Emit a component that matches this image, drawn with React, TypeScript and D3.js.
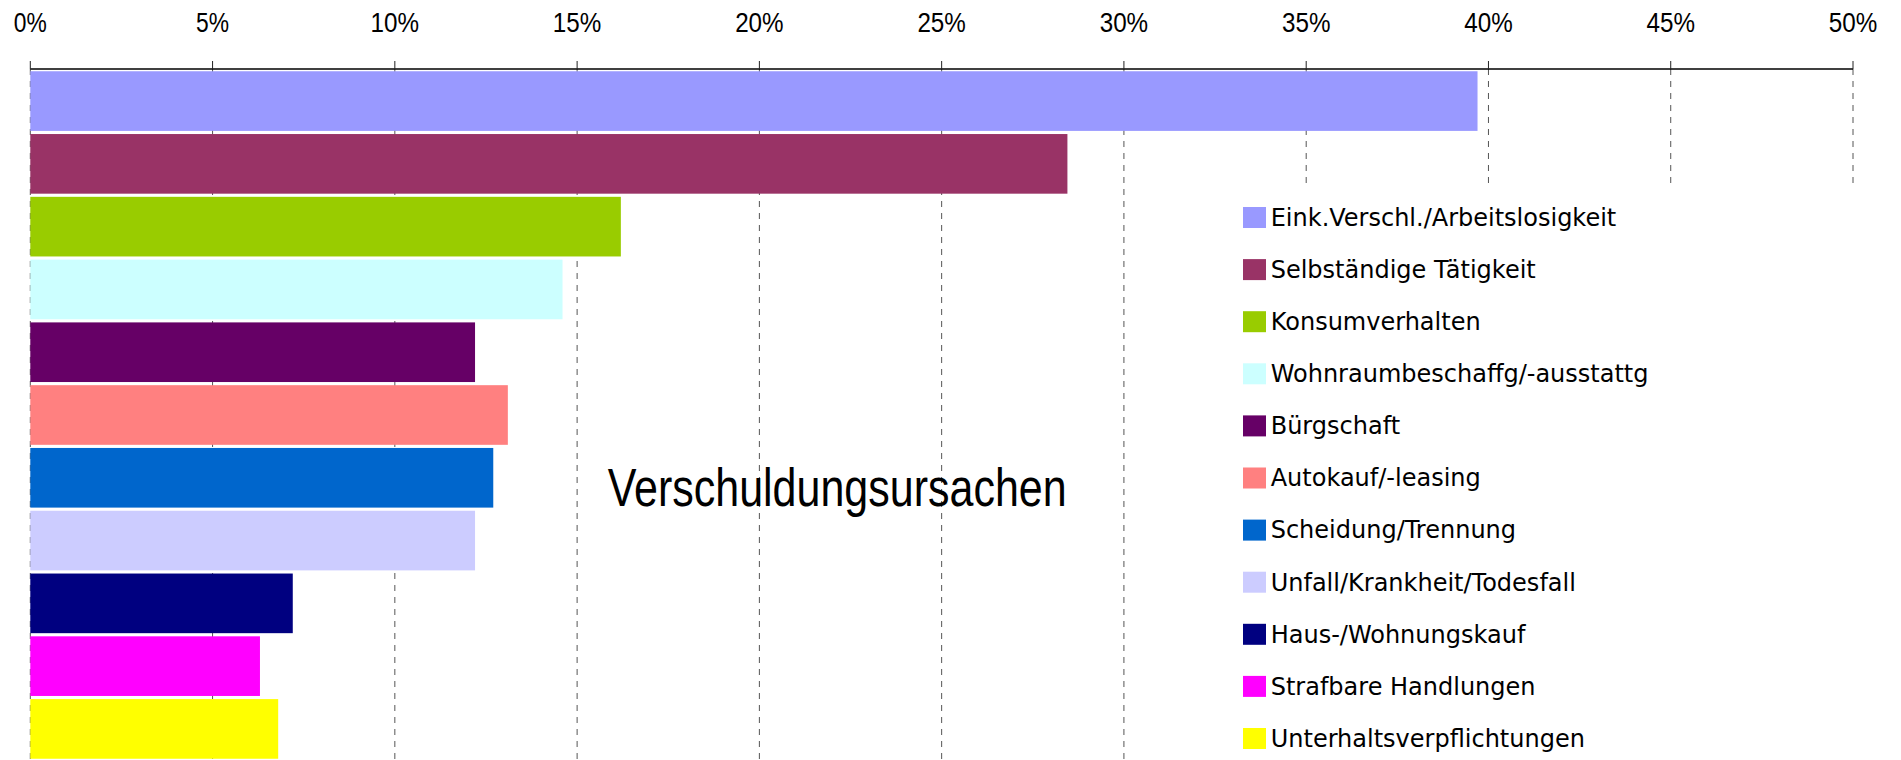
import React from "react";
import * as d3 from "d3";

const categories = [
  "Eink.Verschl./Arbeitslosigkeit",
  "Selbständige Tätigkeit",
  "Konsumverhalten",
  "Wohnraumbeschaffg/-ausstattg",
  "Bürgschaft",
  "Autokauf/-leasing",
  "Scheidung/Trennung",
  "Unfall/Krankheit/Todesfall",
  "Haus-/Wohnungskauf",
  "Strafbare Handlungen",
  "Unterhaltsverpflichtungen",
];
const values = [39.7, 28.45, 16.2, 14.6, 12.2, 13.1, 12.7, 12.2, 7.2, 6.3, 6.8];
const colors = [
  "#9999FF", "#993366", "#99CC00", "#CCFFFF", "#660066", "#FF8080",
  "#0066CC", "#CCCCFF", "#000080", "#FF00FF", "#FFFF00",
];
const tickValues = [0, 5, 10, 15, 20, 25, 30, 35, 40, 45, 50];
const title = "Verschuldungsursachen";

const W = 1901;
const H = 760;

export default function App() {
  const x = d3.scaleLinear().domain([0, 50]).range([30.3, 1853]);
  const y = d3
    .scaleBand<string>()
    .domain(categories)
    .range([70, 760])
    .paddingInner(0.05)
    .paddingOuter(0.02);
  const axisY = 69;
  const legendX = 1243;
  const legendY0 = 217.5;
  const legendStep = 52.1;

  return (
    <svg
      width={W}
      height={H}
      style={{ position: "absolute", left: 0, top: 0, display: "block", background: "#fff" }}
    >
      {/* gridlines */}
      {tickValues.map((t) => (
        <line
          key={"g" + t}
          x1={x(t)}
          x2={x(t)}
          y1={axisY}
          y2={H}
          stroke="#555"
          strokeWidth={1}
          strokeDasharray="6,6"
        />
      ))}
      {/* bars */}
      {categories.map((c, i) => (
        <rect
          key={c}
          x={x(0)}
          y={y(c)}
          width={x(values[i]) - x(0)}
          height={y.bandwidth()}
          fill={colors[i]}
        />
      ))}
      {/* axis */}
      <line x1={x(0)} x2={x(50)} y1={axisY} y2={axisY} stroke="#000" strokeWidth={1.3} />
      {tickValues.map((t) => (
        <line key={"t" + t} x1={x(t)} x2={x(t)} y1={axisY - 8} y2={axisY} stroke="#222" strokeWidth={1} />
      ))}
      {tickValues.map((t) => {
        const label = `${t}%`;
        return (
          <text
            key={"l" + t}
            x={x(t)}
            y={31.7}
            textAnchor="middle"
            fontFamily="'Liberation Sans Narrow', 'Liberation Sans', Arial, sans-serif"
            fontSize={27.5}
            fill="#000"
            textLength={label.length === 2 ? 33 : 48.5}
            lengthAdjust="spacingAndGlyphs"
          >
            {label}
          </text>
        );
      })}
      {/* title */}
      <text
        x={607.7}
        y={506}
        fontFamily="'Liberation Sans Narrow', 'Liberation Sans', Arial, sans-serif"
        fontSize={53}
        fill="#000"
        textLength={459}
        lengthAdjust="spacingAndGlyphs"
      >
        {title}
      </text>
      {/* legend */}
      <rect x={1236} y={189} width={W - 1236} height={H - 189} fill="#fff" />
      {categories.map((c, i) => {
        const cy = legendY0 + i * legendStep;
        return (
          <g key={"lg" + c}>
            <rect x={legendX} y={cy - 10.5} width={23} height={21} fill={colors[i]} />
            <text
              x={1270.7}
              y={cy + 8.3}
              fontFamily="'DejaVu Sans', Verdana, sans-serif"
              fontSize={24}
              fill="#000"
            >
              {c}
            </text>
          </g>
        );
      })}
    </svg>
  );
}
